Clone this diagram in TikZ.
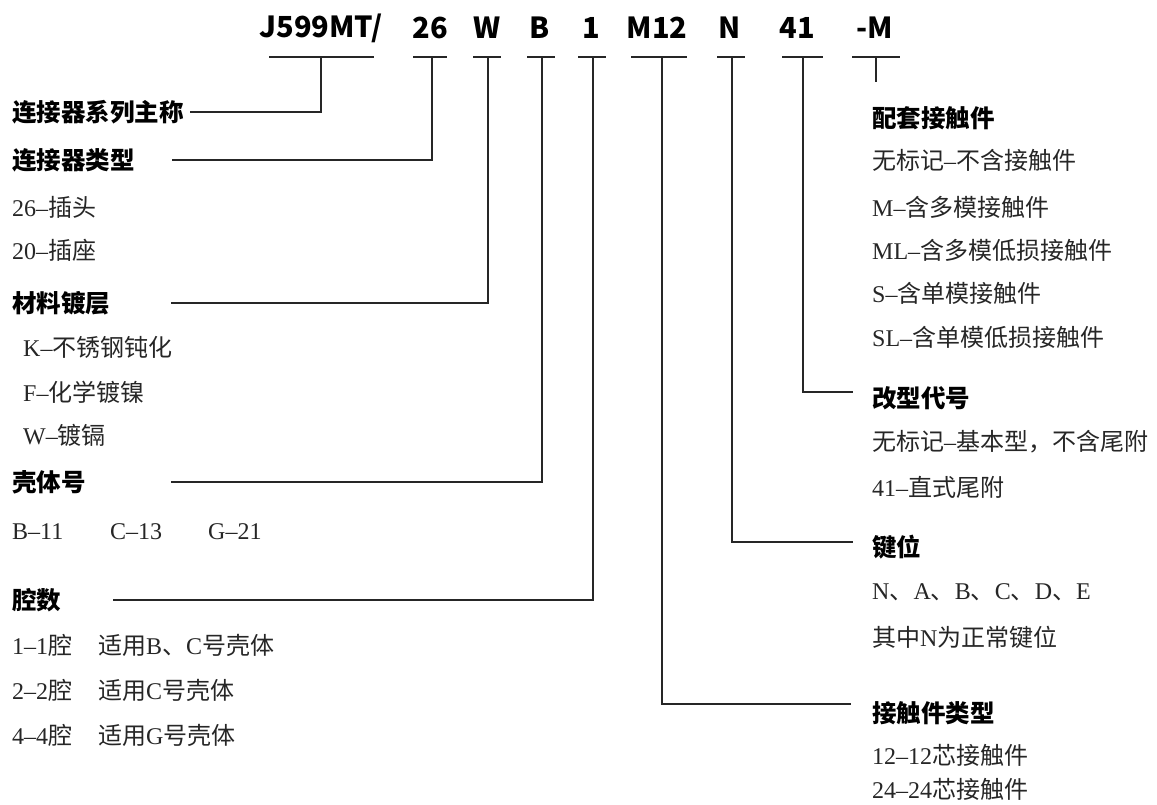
\documentclass[tikz,border=0pt]{standalone}
\usepackage{fontspec}
\setmainfont{Noto Sans CJK SC}
\newfontfamily\lat{Liberation Serif}
\newcommand{\hy}{{\lat –}}
\begin{document}
\begin{tikzpicture}[x=1pt,y=-1pt,
  hdr/.style={font=\bfseries\fontsize{29}{29}\selectfont, inner sep=0, anchor=center},
  head/.style={font=\bfseries\fontsize{24.5}{24.5}\selectfont, inner sep=0, anchor=west},
  body/.style={font=\fontsize{24}{24}\selectfont, inner sep=0, anchor=west, text=black!85},
  conn/.style={line width=1.8pt, black!85},
  bar/.style={line width=1.8pt, black!85}]
\useasboundingbox (0,0) rectangle (1157,804);
% header code
\node[hdr] (t1) at (321,28) {J599MT/};
\node[hdr] (t2) at (430,28) {26};
\node[hdr] (t3) at (487,28) {W};
\node[hdr] (t4) at (540,28) {B};
\node[hdr] (t5) at (591,28) {1};
\node[hdr] (t6) at (657,28) {M12};
\node[hdr] (t7) at (730,28) {N};
\node[hdr] (t8) at (797,28) {41};
\node[hdr] (t9) at (875,28) {-M};
% bars
\coordinate (c1) at (321,57); \draw[bar] (269,57) -- (374,57);
\coordinate (c2) at (432,57); \draw[bar] (413,57) -- (447,57);
\coordinate (c3) at (488,57); \draw[bar] (473,57) -- (501,57);
\coordinate (c4) at (542,57); \draw[bar] (527,57) -- (555,57);
\coordinate (c5) at (593,57); \draw[bar] (578,57) -- (606,57);
\coordinate (c6) at (662,57); \draw[bar] (631,57) -- (687,57);
\coordinate (c7) at (732,57); \draw[bar] (717,57) -- (745,57);
\coordinate (c8) at (803,57); \draw[bar] (782,57) -- (823,57);
\coordinate (c9) at (876,57); \draw[bar] (852,57) -- (900,57);
\coordinate (e9) at (876,82);
\draw[conn] (c9) -- (e9);
% left column
\node[head] (h1) at (12,112) {连接器系列主称};
\node[head] (h2) at (12,160) {连接器类型};
\node[body] at (12,207) {{\lat 26}\hy 插头};
\node[body] at (12,250) {{\lat 20}\hy 插座};
\node[head] (h3) at (12,303) {材料镀层};
\node[body] at (23,347) {{\lat K}\hy 不锈钢钝化};
\node[body] at (23,392) {{\lat F}\hy 化学镀镍};
\node[body] at (23,435) {{\lat W}\hy 镀镉};
\node[head] (h4) at (12,482) {壳体号};
\node[body] at (12,532) {{\lat B}\hy{\lat 11}};
\node[body] at (110,532) {{\lat C}\hy{\lat 13}};
\node[body] at (208,532) {{\lat G}\hy{\lat 21}};
\node[head] (h5) at (12,600) {腔数};
\node[body] at (12,645) {{\lat 1}\hy{\lat 1}腔};
\node[body] at (98,645) {适用{\lat B}、{\lat C}号壳体};
\node[body] at (12,690) {{\lat 2}\hy{\lat 2}腔};
\node[body] at (98,690) {适用{\lat C}号壳体};
\node[body] at (12,735) {{\lat 4}\hy{\lat 4}腔};
\node[body] at (98,735) {适用{\lat G}号壳体};
% left connectors
\coordinate (l1) at (190,112);
\coordinate (l2) at (172,160);
\coordinate (l3) at (171,303);
\coordinate (l4) at (171,482);
\coordinate (l5) at (113,600);
\draw[conn] (l1) -| (c1);
\draw[conn] (l2) -| (c2);
\draw[conn] (l3) -| (c3);
\draw[conn] (l4) -| (c4);
\draw[conn] (l5) -| (c5);
% right column
\node[head] (r1) at (872,118) {配套接触件};
\node[body] at (872,160) {无标记\hy 不含接触件};
\node[body] at (872,207) {{\lat M}\hy 含多模接触件};
\node[body] at (872,250) {{\lat ML}\hy 含多模低损接触件};
\node[body] at (872,293) {{\lat S}\hy 含单模接触件};
\node[body] at (872,337) {{\lat SL}\hy 含单模低损接触件};
\node[head] (r2) at (872,398) {改型代号};
\node[body] at (872,442) {无标记\hy 基本型，不含尾附};
\node[body] at (872,487) {{\lat 41}\hy 直式尾附};
\node[head] (r3) at (872,547) {键位};
\node[body] at (872,592) {{\lat N}、{\lat A}、{\lat B}、{\lat C}、{\lat D}、{\lat E}};
\node[body] at (872,637) {其中{\lat N}为正常键位};
\node[head] (r4) at (872,713) {接触件类型};
\node[body] at (872,755) {{\lat 12}\hy{\lat 12}芯接触件};
\node[body] at (872,789) {{\lat 24}\hy{\lat 24}芯接触件};
% right connectors
\coordinate (q2) at (853,392);
\coordinate (q3) at (853,542);
\coordinate (q4) at (851,704);
\draw[conn] (c8) |- (q2);
\draw[conn] (c7) |- (q3);
\draw[conn] (c6) |- (q4);
\end{tikzpicture}
\end{document}
